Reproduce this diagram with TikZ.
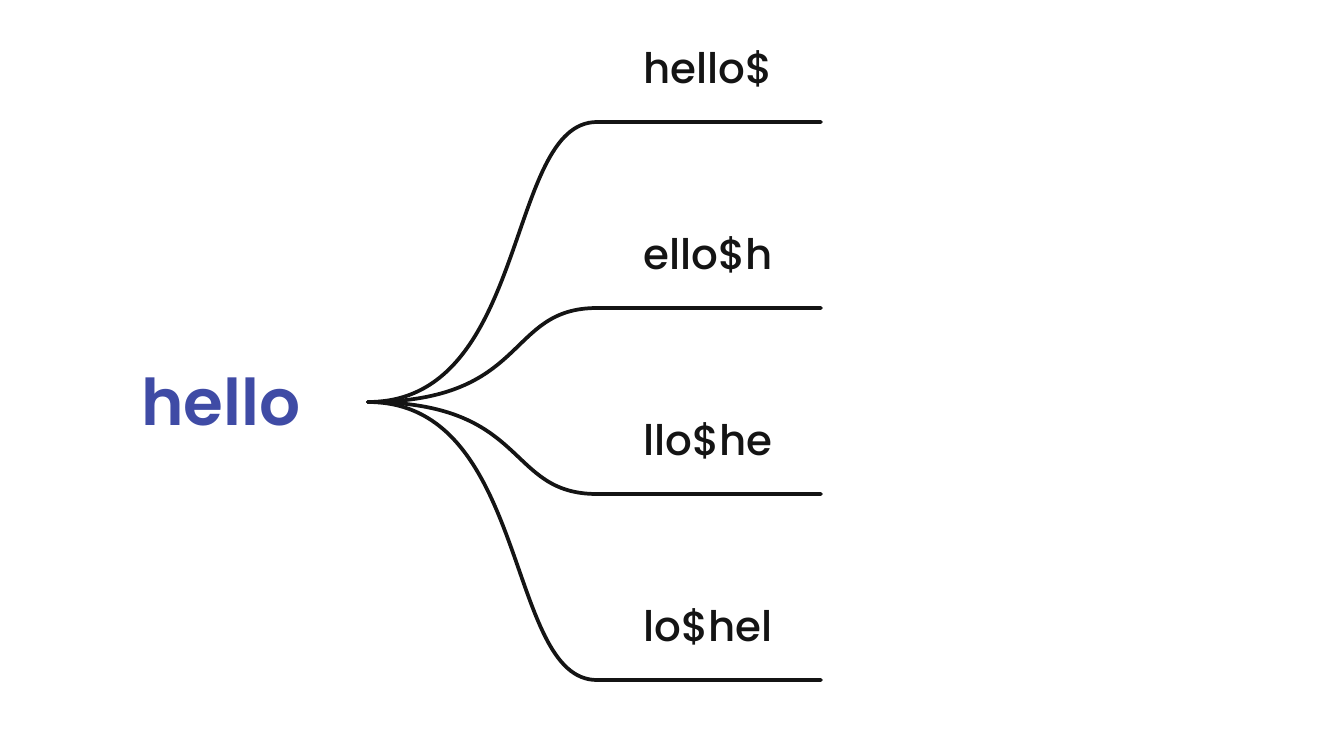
\documentclass[tikz,border=0pt]{standalone}
\usepackage{fontspec}
\setmainfont{Poppins}
\newfontfamily\leaffont{Poppins}[UprightFont=* Medium]
\newfontfamily\rootfont{Poppins}[UprightFont=* SemiBold]
\definecolor{rootblue}{HTML}{3F4BA5}
\definecolor{ink}{HTML}{141414}
\begin{document}
\begin{tikzpicture}[x=0.75pt,y=-0.75pt,
  branch/.style={draw=ink,line width=2.8pt,line cap=round},
  leaf/.style={text=ink,font=\leaffont\fontsize{31.5}{34}\selectfont,anchor=center,inner sep=0pt},
  rootlbl/.style={text=rootblue,font=\rootfont\fontsize{48.3}{52}\selectfont,anchor=center,inner sep=0pt}]
\useasboundingbox (0,0) rectangle (1317,743);
\node[rootlbl] (root) at (221,402) {hello};
\coordinate (r) at (368,402);
\foreach \i/\y/\t in {1/122/hello\$,2/308/ello\$h,3/494/llo\$he,4/680/lo\$hel}{
  \coordinate (s\i) at (597,\y);
  \coordinate (e\i) at (821,\y);
  \node[leaf] (l\i) at (708,\y-53) {\t};
  \draw[branch] (r) .. controls (530,402) and (505,\y) .. (s\i) -- (e\i);
}
\end{tikzpicture}
\end{document}
